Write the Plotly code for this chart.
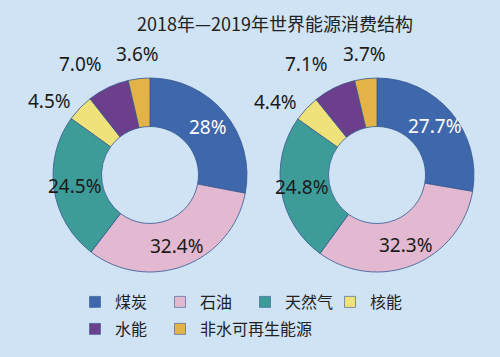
import math
import plotly.graph_objects as go

title_text = "2018年—2019年世界能源消费结构"
categories = ["煤炭", "石油", "天然气", "核能", "水能", "非水可再生能源"]
values_2018 = [28, 32.4, 24.5, 4.5, 7.0, 3.6]
labels_2018 = ["28%", "32.4%", "24.5%", "4.5%", "7.0%", "3.6%"]
values_2019 = [27.7, 32.3, 24.8, 4.4, 7.1, 3.7]
labels_2019 = ["27.7%", "32.3%", "24.8%", "4.4%", "7.1%", "3.7%"]

colors = ["#3f68ac", "#e2b9d0", "#3e9c98", "#f0e27a", "#6c3f8c", "#e3b347"]
text_colors = ["#ffffff", "#1a1a1a", "#1a1a1a", "#1a1a1a", "#1a1a1a", "#1a1a1a"]
label_inside = [True, True, True, False, False, False]
W, H = 500, 357
R_PX = 97          # outer radius in px
CY_PX = 175        # donut centre (px from top)
centres_x = [150, 377]
BG = "#cfe3f5"
FONT = "Noto Sans"

fig = go.Figure()
annotations = []
for cx, vals, texts in [(centres_x[0], values_2018, labels_2018),
                        (centres_x[1], values_2019, labels_2019)]:
    dom_x = [(cx - R_PX) / W, (cx + R_PX) / W]
    dom_y = [1 - (CY_PX + R_PX) / H, 1 - (CY_PX - R_PX) / H]
    fig.add_trace(go.Pie(
        labels=categories, values=vals, text=texts,
        textinfo="none",
        sort=False, direction="clockwise", rotation=0,
        hole=0.5, showlegend=False,
        marker=dict(colors=colors, line=dict(color="#35588f", width=0.8)),
        domain=dict(x=dom_x, y=dom_y),
        hoverinfo="label+text",
    ))
    total = sum(vals)
    cum = 0.0
    for v, t, inside, tc in zip(vals, texts, label_inside, text_colors):
        mid = (cum + v / 2) / total
        cum += v
        th = 2 * math.pi * mid
        s, c = math.sin(th), math.cos(th)
        if inside:
            rr = R_PX * 0.78
            xa, ya = "center", "middle"
        else:
            rr = R_PX * 1.1
            xa = "center" if abs(s) < 0.3 else ("right" if s < 0 else "left")
            ya = "middle" if abs(c) < 0.8 else ("bottom" if c > 0 else "top")
        px = cx + rr * s
        py = CY_PX - rr * c
        annotations.append(dict(
            x=px / W, y=1 - py / H, xref="paper", yref="paper",
            text=t, showarrow=False, xanchor=xa, yanchor=ya,
            font=dict(family=FONT, size=19, color=tc)))

# legend entries: four categories in row one, then two in row two
legend_slots = ["legend", "legend", "legend", "legend", "legend2", "legend3"]
for name, col, slot in zip(categories, colors, legend_slots):
    fig.add_trace(go.Scatter(
        x=[None], y=[None], mode="markers", name=name,
        marker=dict(symbol="square", size=11, color=col,
                    line=dict(color="#35588f", width=0.6)),
        legend=slot, hoverinfo="skip"))

legend_common = dict(orientation="h", xanchor="left", yanchor="middle",
                     entrywidth=40, entrywidthmode="pixels", traceorder="normal",
                     font=dict(family="Noto Sans CJK SC", size=16, color="#222222"),
                     bgcolor="rgba(0,0,0,0)", itemwidth=30)

fig.update_layout(
    width=W, height=H,
    margin=dict(l=0, r=0, t=0, b=0),
    paper_bgcolor=BG,
    plot_bgcolor=BG,
    xaxis=dict(visible=False), yaxis=dict(visible=False),
    annotations=annotations,
    title=dict(text=title_text, x=0.55, xanchor="center", y=1 - 25 / H, yanchor="middle",
               font=dict(family="Noto Sans CJK SC", size=18, color="#222222")),
    legend=dict(x=0.15, y=1 - 302 / H, **legend_common),
    legend2=dict(x=0.15, y=1 - 329 / H, **legend_common),
    legend3=dict(x=0.32, y=1 - 329 / H, orientation="h", xanchor="left", yanchor="middle",
                 font=dict(family="Noto Sans CJK SC", size=16, color="#222222"),
                 bgcolor="rgba(0,0,0,0)", itemwidth=30),
    showlegend=True,
)

fig.write_html("out.html",
               config={"displayModeBar": False},
               post_script="document.body.style.margin='0';"
                           "document.body.style.background='" + BG + "';")
